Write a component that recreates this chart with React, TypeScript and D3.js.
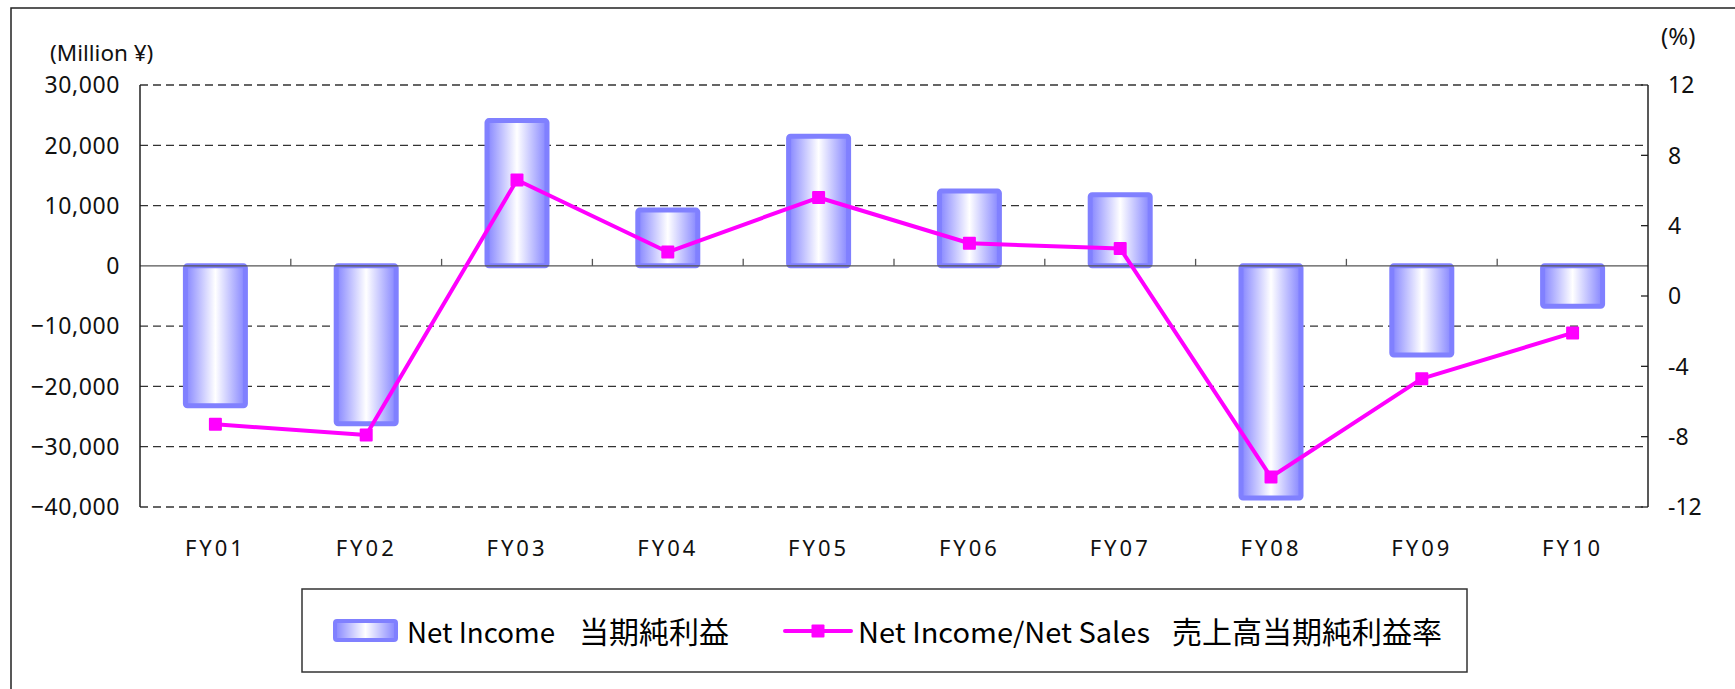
import React from "react";
import * as d3 from "d3";

const categories = ["FY01", "FY02", "FY03", "FY04", "FY05", "FY06", "FY07", "FY08", "FY09", "FY10"];
const netIncome = [-23200, -26200, 24100, 9250, 21500, 12400, 11800, -38500, -14800, -6700];
const ratio = [-7.3, -7.9, 6.6, 2.5, 5.6, 3.0, 2.7, -10.3, -4.7, -2.1];
const leftTicks = [30000, 20000, 10000, 0, -10000, -20000, -30000, -40000];
const rightTicks = [12, 8, 4, 0, -4, -8, -12];
const legendLabels = ["Net Income", "当期純利益", "Net Income/Net Sales", "売上高当期純利益率"];

const W = 1735;
const H = 689;
const plotL = 140;
const plotR = 1648;
const plotT = 85;
const plotB = 507;
const font = "'Noto Sans', 'Noto Sans CJK JP', sans-serif";
const cjk = "'Noto Sans CJK JP', sans-serif";

export default function App() {
  const x = d3.scaleBand<string>().domain(categories).range([plotL, plotR]).padding(0);
  const yL = d3.scaleLinear().domain([-40000, 30000]).range([plotB, plotT]);
  const yR = d3.scaleLinear().domain([-12, 12]).range([plotB, plotT]);
  const bw = 60;
  const fmt = d3.format(",");
  const line = d3
    .line<number>()
    .x((_, i) => (x(categories[i]) as number) + x.bandwidth() / 2)
    .y((d) => yR(d));
  const dash = "8,5";

  return (
    <svg
      width={W}
      height={H}
      viewBox={`0 0 ${W} ${H}`}
      style={{ position: "absolute", left: 0, top: 0, background: "#fff" }}
    >
      <defs>
        <linearGradient id="barGrad" x1="0" x2="1" y1="0" y2="0">
          <stop offset="0" stopColor="#8585ff" />
          <stop offset="0.5" stopColor="#ffffff" />
          <stop offset="1" stopColor="#8585ff" />
        </linearGradient>
      </defs>
      <rect x={11} y={8} width={2000} height={1000} fill="#fff" stroke="#222" strokeWidth={1.5} />

      {/* gridlines */}
      {leftTicks
        .filter((t) => t !== 0)
        .map((t) => (
          <line
            key={t}
            x1={plotL}
            x2={plotR}
            y1={yL(t)}
            y2={yL(t)}
            stroke="#333"
            strokeWidth={1.3}
            strokeDasharray={dash}
          />
        ))}

      {/* bars */}
      {netIncome.map((v, i) => {
        const cx = (x(categories[i]) as number) + x.bandwidth() / 2;
        const y0 = yL(0);
        const y1 = yL(v);
        return (
          <rect
            key={i}
            x={cx - bw / 2}
            y={Math.min(y0, y1)}
            width={bw}
            height={Math.abs(y1 - y0)}
            fill="url(#barGrad)"
            stroke="#8080ff"
            strokeWidth={5}
            rx={2}
          />
        );
      })}

      {/* zero line and category ticks */}
      <line x1={plotL} x2={plotR} y1={yL(0)} y2={yL(0)} stroke="#555" strokeWidth={1.3} />
      {categories.slice(1).map((c) => (
        <line
          key={c}
          x1={x(c) as number}
          x2={x(c) as number}
          y1={yL(0)}
          y2={yL(0) - 7}
          stroke="#555"
          strokeWidth={1.3}
        />
      ))}

      {/* axes */}
      <line x1={plotL} x2={plotL} y1={plotT} y2={plotB} stroke="#222" strokeWidth={1.5} />
      <line x1={plotR} x2={plotR} y1={plotT} y2={plotB} stroke="#222" strokeWidth={1.5} />
      {rightTicks.map((t) => (
        <line key={t} x1={plotR - 7} x2={plotR} y1={yR(t)} y2={yR(t)} stroke="#222" strokeWidth={1.3} />
      ))}

      {/* line series */}
      <path d={line(ratio) as string} fill="none" stroke="#ff00ff" strokeWidth={4} strokeLinejoin="round" />
      {ratio.map((v, i) => {
        const cx = (x(categories[i]) as number) + x.bandwidth() / 2;
        return <rect key={i} x={cx - 6.5} y={yR(v) - 6.5} width={13} height={13} fill="#ff00ff" rx={1} />;
      })}

      {/* left labels */}
      {leftTicks.map((t) => (
        <text
          key={t}
          x={120}
          y={yL(t)}
          dy="0.36em"
          textAnchor="end"
          fontFamily={font}
          fontSize={23}
          letterSpacing={0.6}
          fill="#111"
        >
          {fmt(t)}
        </text>
      ))}
      {rightTicks.map((t) => (
        <text key={t} x={1668} y={yR(t)} dy="0.36em" fontFamily={font} fontSize={23} fill="#111">
          {t}
        </text>
      ))}
      <text x={50} y={53} dy="0.36em" fontFamily={font} fontSize={22.5} fill="#111">
        (Million ¥)
      </text>
      <text x={1661} y={36} dy="0.36em" fontFamily={font} fontSize={24} fill="#111">
        (%)
      </text>

      {/* category labels */}
      {categories.map((c) => (
        <text
          key={c}
          x={(x(c) as number) + x.bandwidth() / 2}
          y={556}
          textAnchor="middle"
          fontFamily={font}
          fontSize={22}
          letterSpacing={3}
          fill="#111"
        >
          {c}
        </text>
      ))}

      {/* legend */}
      <rect x={302} y={589} width={1165} height={83} fill="#fff" stroke="#333" strokeWidth={1.5} />
      <rect x={335} y={621} width={61} height={19} fill="url(#barGrad)" stroke="#8080ff" strokeWidth={4} rx={2} />
      <text
        x={407}
        y={643}
        fontFamily={cjk}
        fontSize={28}
        textLength={148}
        lengthAdjust="spacingAndGlyphs"
        fill="#000"
      >
        {legendLabels[0]}
      </text>
      <text x={579} y={643} fontFamily={cjk} fontSize={30} fill="#000">
        {legendLabels[1]}
      </text>
      <line x1={785} x2={851} y1={631} y2={631} stroke="#ff00ff" strokeWidth={4} strokeLinecap="round" />
      <rect x={811.5} y={624.5} width={13} height={13} fill="#ff00ff" rx={1} />
      <text
        x={858}
        y={643}
        fontFamily={cjk}
        fontSize={28}
        textLength={292}
        lengthAdjust="spacingAndGlyphs"
        fill="#000"
      >
        {legendLabels[2]}
      </text>
      <text x={1172} y={643} fontFamily={cjk} fontSize={30} fill="#000">
        {legendLabels[3]}
      </text>
    </svg>
  );
}
